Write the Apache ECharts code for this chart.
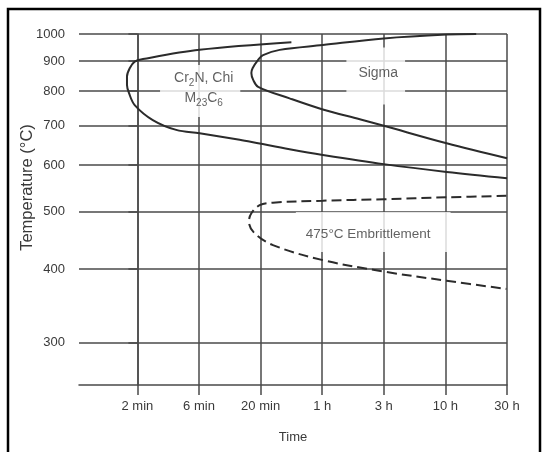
<!DOCTYPE html>
<html>
<head>
<meta charset="utf-8">
<script src="https://cdn.jsdelivr.net/npm/echarts@6/dist/echarts.min.js"></script>
<style>
  html, body { margin: 0; padding: 0; background: #fff; }
  #chart { width: 545px; height: 452px; }
</style>
</head>
<body>
<div id="chart"></div>
<script>
// time axis: ticks are evenly spaced, x is the tick index (0 = 2 min)
var timeLabels = ["2 min", "6 min", "20 min", "1 h", "3 h", "10 h", "30 h"];
var tempTicks = [300, 400, 500, 600, 700, 800, 900, 1000];

// [time position, temperature °C]
var chiCurve = [
  [2.50, 968], [1.01, 940], [0.09, 907], [-0.044, 898], [-0.125, 875],
  [-0.169, 847], [-0.169, 820], [-0.136, 794], [-0.044, 758], [0.25, 715],
  [0.63, 688], [1.01, 679], [1.66, 662], [1.96, 653], [2.47, 638],
  [3.01, 624], [4.00, 602], [5.02, 584], [6.00, 570]
];
var sigmaCurve = [
  [5.5, 1000], [5.02, 998], [4.00, 983], [3.01, 958], [2.31, 940],
  [2.04, 921], [1.96, 904], [1.87, 875], [1.85, 859], [1.88, 836],
  [1.96, 814], [2.47, 778], [3.01, 745], [3.61, 717], [4.00, 699],
  [5.02, 653], [6.00, 616]
];
var embrittleCurve = [
  [5.99, 532], [5.02, 529], [4.00, 525], [3.01, 522], [2.20, 518],
  [1.985, 513], [1.85, 497], [1.81, 481], [1.90, 460], [2.20, 439],
  [3.01, 414], [4.00, 396], [5.02, 382], [5.99, 370]
];

var regionNames = ["Cr{s|2}N, Chi\nM{s|23}C{s|6}", "Sigma", "475°C Embrittlement"];
var regionPos = [[1.019, 801], [3.869, 849], [3.828, 462]];

var tempMin = 254.4, tempMax = 1000;

function toLog(arr) {
  return arr.map(function (p) { return [p[0], Math.log10(p[1])]; });
}

var myChart = echarts.init(document.getElementById("chart"));

var lineColor = "#2b2b2b";
var gridColor = "#4a4a4a";
var textColor = "#3a3a3a";
var font = "Liberation Sans, Arial, sans-serif";

var regionPadding = [
  [3, 7, 9, 14],
  [16, 7, 21, 12],
  [12, 20, 8, 10]
];
var regionFontSize = [14, 14, 13.5];

var option = {
  animation: false,
  backgroundColor: "#fff",
  grid: { left: 79, right: 38, top: 34, bottom: 67, containLabel: false },
  xAxis: {
    type: "value",
    min: -0.948,
    max: 6,
    name: "Time",
    nameLocation: "middle",
    nameGap: 46,
    nameMoveOverlap: false,
    nameTextStyle: { color: textColor, fontSize: 13, fontFamily: font, verticalAlign: "top" },
    axisLine: { show: true, lineStyle: { color: gridColor, width: 1.5 } },
    axisTick: {
      show: true, length: 10,
      customValues: timeLabels.map(function (d, i) { return i; }),
      lineStyle: { color: gridColor, width: 1.5 }
    },
    axisLabel: {
      customValues: timeLabels.map(function (d, i) { return i; }),
      margin: 15, color: textColor, fontSize: 13, fontFamily: font,
      formatter: function (v) { return timeLabels[Math.round(v)]; }
    },
    splitLine: { show: true, lineStyle: { color: gridColor, width: 1.5 } }
  },
  yAxis: {
    type: "value",
    min: Math.log10(tempMin),
    max: Math.log10(tempMax),
    name: "Temperature (°C)",
    nameLocation: "middle",
    nameGap: 43,
    nameRotate: 90,
    nameMoveOverlap: false,
    nameTextStyle: { color: textColor, fontSize: 16.5, fontFamily: font, padding: [0, 0, 0, 44] },
    axisLine: { show: true, lineStyle: { color: gridColor, width: 1.5 } },
    axisTick: {
      show: true, length: 9,
      customValues: tempTicks.map(function (t) { return Math.log10(t); }),
      lineStyle: { color: gridColor, width: 1.5 }
    },
    axisLabel: {
      customValues: tempTicks.map(function (t) { return Math.log10(t); }),
      margin: 14, color: textColor, fontSize: 13, fontFamily: font,
      formatter: function (v) { return Math.round(Math.pow(10, v)); }
    },
    splitLine: { show: true, lineStyle: { color: gridColor, width: 1.5 } }
  },
  series: [
    {
      name: "Cr2N, Chi",
      type: "line",
      data: toLog(chiCurve),
      smooth: 0.35,
      showSymbol: false,
      z: 3,
      lineStyle: { color: lineColor, width: 2 }
    },
    {
      name: "Sigma",
      type: "line",
      data: toLog(sigmaCurve),
      smooth: 0.35,
      showSymbol: false,
      z: 3,
      lineStyle: { color: lineColor, width: 2 }
    },
    {
      name: "475°C Embrittlement",
      type: "line",
      data: toLog(embrittleCurve),
      smooth: 0.35,
      showSymbol: false,
      z: 3,
      lineStyle: { color: lineColor, width: 2, type: [10, 5] }
    },
    {
      name: "regions",
      type: "scatter",
      symbolSize: 0,
      z: 2,
      silent: true,
      data: regionPos.map(function (p, i) {
        return {
          value: [p[0], Math.log10(p[1])],
          label: {
            show: true,
            position: "inside",
            formatter: regionNames[i],
            padding: regionPadding[i],
            backgroundColor: "#fff",
            color: textColor,
            fontSize: regionFontSize[i],
            fontFamily: font,
            lineHeight: 20,
            rich: {
              s: { fontSize: 10, fontFamily: font, color: textColor, verticalAlign: "bottom", lineHeight: 14, padding: [8, 0, 0, 0] }
            }
          }
        };
      })
    }
  ],
  graphic: [
    {
      type: "rect",
      shape: { x: 8, y: 9, width: 532, height: 470 },
      style: { fill: null, stroke: "#000", lineWidth: 2.5 },
      silent: true
    }
  ]
};

myChart.setOption(option);
</script>
</body>
</html>
